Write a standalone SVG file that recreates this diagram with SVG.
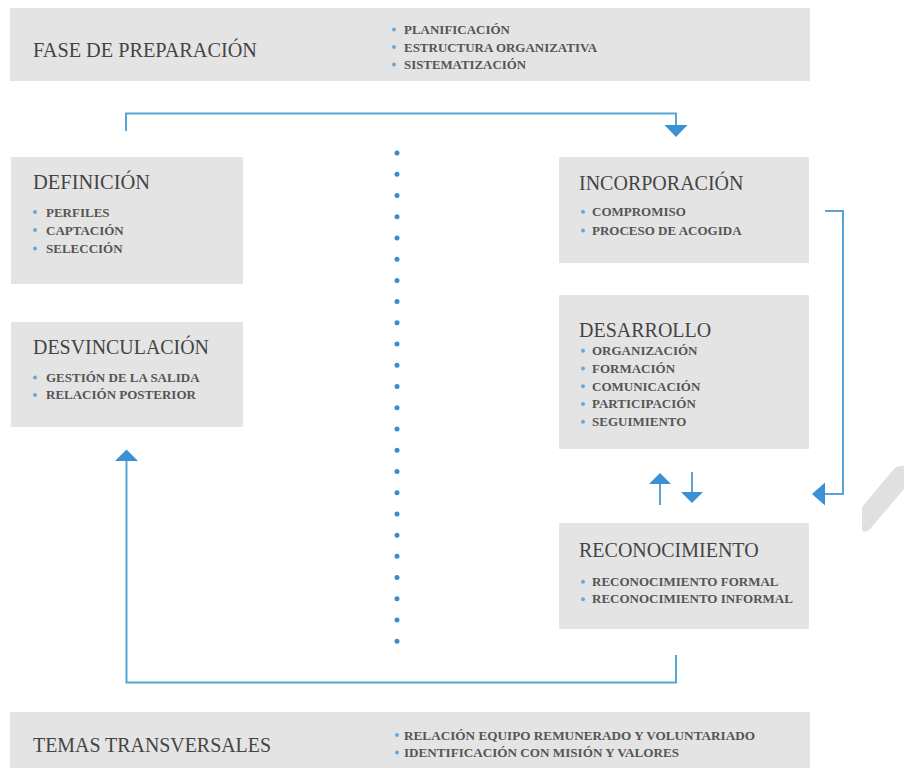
<svg xmlns="http://www.w3.org/2000/svg" width="904" height="769" viewBox="0 0 904 769">
<defs>
<style>
.box{fill:#e4e4e4}
.title{font-family:"Liberation Serif","Times New Roman",serif;font-size:20px;fill:#444}
.item{font-family:"Liberation Serif","Times New Roman",serif;font-size:13px;font-weight:bold;fill:#555}
.sitem{font-family:"Liberation Serif","Times New Roman",serif;font-size:12.7px;font-weight:bold;fill:#555}
.dot{fill:#6aa8d8}
.conn{fill:none;stroke:#55a5d8;stroke-width:2}
.head{fill:#3b91d6}
</style>
</defs>
<rect width="904" height="769" fill="#ffffff"/>
<path d="M862,507 L893,470 Q898,465 904,466 L904,489 L870,529 Q866,533 862,531 Z" fill="#e0e0e0"/>

<g id="fase-preparacion">
<rect class="box" x="10" y="8" width="800" height="73"/>
<text class="title" x="33" y="57" textLength="224" lengthAdjust="spacingAndGlyphs">FASE DE PREPARACIÓN</text>
<circle class="dot" cx="394" cy="29.5" r="2"/>
<circle class="dot" cx="394" cy="47" r="2"/>
<circle class="dot" cx="394" cy="64.5" r="2"/>
<text class="sitem" x="404" y="34" textLength="106" lengthAdjust="spacingAndGlyphs">PLANIFICACIÓN</text>
<text class="sitem" x="404" y="51.5" textLength="193" lengthAdjust="spacingAndGlyphs">ESTRUCTURA ORGANIZATIVA</text>
<text class="sitem" x="404" y="69" textLength="122" lengthAdjust="spacingAndGlyphs">SISTEMATIZACIÓN</text>
</g>

<g id="definicion">
<rect class="box" x="11" y="157" width="232" height="127"/>
<text class="title" x="33" y="189" textLength="117" lengthAdjust="spacingAndGlyphs">DEFINICIÓN</text>
<circle class="dot" cx="35" cy="212" r="2"/>
<circle class="dot" cx="35" cy="230" r="2"/>
<circle class="dot" cx="35" cy="248.5" r="2"/>
<text class="item" x="46" y="216.5">PERFILES</text>
<text class="item" x="46" y="234.5">CAPTACIÓN</text>
<text class="item" x="46" y="253">SELECCIÓN</text>
</g>

<g id="desvinculacion">
<rect class="box" x="11" y="322" width="232" height="105"/>
<text class="title" x="33" y="353.5" textLength="176" lengthAdjust="spacingAndGlyphs">DESVINCULACIÓN</text>
<circle class="dot" cx="35" cy="377.5" r="2"/>
<circle class="dot" cx="35" cy="395" r="2"/>
<text class="item" x="46" y="381.7">GESTIÓN DE LA SALIDA</text>
<text class="item" x="46" y="399.3">RELACIÓN POSTERIOR</text>
</g>

<g id="incorporacion">
<rect class="box" x="559" y="157" width="250" height="106"/>
<text class="title" x="579" y="189.5">INCORPORACIÓN</text>
<circle class="dot" cx="583" cy="211.8" r="2"/>
<circle class="dot" cx="583" cy="230.5" r="2"/>
<text class="item" x="592" y="216">COMPROMISO</text>
<text class="item" x="592" y="235">PROCESO DE ACOGIDA</text>
</g>

<g id="desarrollo">
<rect class="box" x="559" y="295" width="250" height="154"/>
<text class="title" x="579" y="336.7">DESARROLLO</text>
<circle class="dot" cx="583" cy="350.8" r="2"/>
<circle class="dot" cx="583" cy="368.5" r="2"/>
<circle class="dot" cx="583" cy="386.3" r="2"/>
<circle class="dot" cx="583" cy="404" r="2"/>
<circle class="dot" cx="583" cy="421.7" r="2"/>
<text class="item" x="592" y="355">ORGANIZACIÓN</text>
<text class="item" x="592" y="372.7">FORMACIÓN</text>
<text class="item" x="592" y="390.5">COMUNICACIÓN</text>
<text class="item" x="592" y="408.2">PARTICIPACIÓN</text>
<text class="item" x="592" y="426">SEGUIMIENTO</text>
</g>

<g id="reconocimiento">
<rect class="box" x="559" y="523" width="250" height="106"/>
<text class="title" x="579" y="556.7">RECONOCIMIENTO</text>
<circle class="dot" cx="583" cy="581.8" r="2"/>
<circle class="dot" cx="583" cy="599.2" r="2"/>
<text class="item" x="592" y="586">RECONOCIMIENTO FORMAL</text>
<text class="item" x="592" y="603.4">RECONOCIMIENTO INFORMAL</text>
</g>

<g id="temas-transversales">
<rect class="box" x="10" y="712" width="800" height="56"/>
<text class="title" x="33" y="751.5" textLength="238" lengthAdjust="spacingAndGlyphs">TEMAS TRANSVERSALES</text>
<circle class="dot" cx="397" cy="735" r="2"/>
<circle class="dot" cx="397" cy="752.5" r="2"/>
<text class="sitem" x="404" y="739.5" textLength="351" lengthAdjust="spacingAndGlyphs">RELACIÓN EQUIPO REMUNERADO Y VOLUNTARIADO</text>
<text class="sitem" x="404" y="757" textLength="275" lengthAdjust="spacingAndGlyphs">IDENTIFICACIÓN CON MISIÓN Y VALORES</text>
</g>

<g id="connectors">
<line x1="397" y1="153" x2="397" y2="642" stroke="#3d8cc9" stroke-width="5" stroke-linecap="round" stroke-dasharray="0 21.23"/>
<path class="conn" d="M126,131 V113.5 H676 V126"/>
<polygon class="head" points="664.5,125 687.5,125 676,137"/>
<path class="conn" d="M825,211 H843 V494 H824"/>
<polygon class="head" points="812,494 825,482.5 825,505.5"/>
<path class="conn" d="M676,655 V682.5 H126.5 V460"/>
<polygon class="head" points="126.5,449.5 115,461 138,461"/>
<path class="conn" d="M660,483 V505"/>
<polygon class="head" points="660,473 649,484 671,484"/>
<path class="conn" d="M692,472 V493"/>
<polygon class="head" points="692,503 681,492 703,492"/>
</g>
</svg>
